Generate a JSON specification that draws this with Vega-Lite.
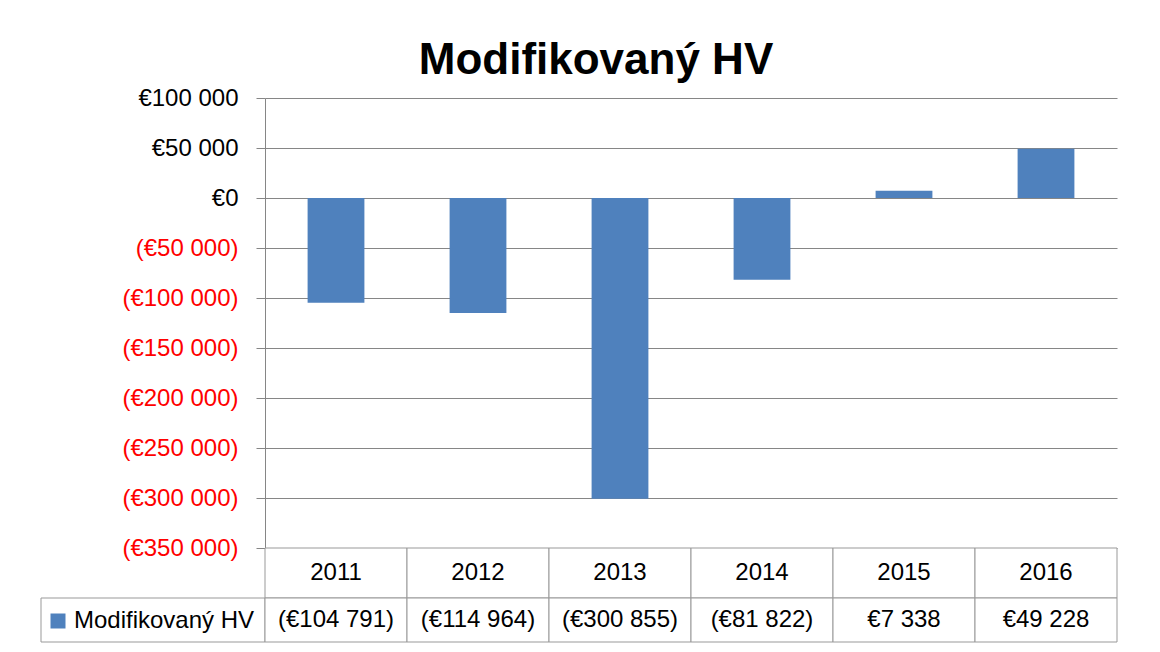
{
  "$schema": "https://vega.github.io/schema/vega-lite/v6.json",
  "padding": {"left": 40, "top": 39, "right": 10, "bottom": 5},
  "background": "white",
  "title": {"text": "Modifikovaný HV", "font": "Liberation Sans", "fontSize": 44, "fontWeight": "bold", "color": "#000000", "anchor": "middle", "dx": 17, "offset": 3},
  "datasets": {
    "hv": [
      {"year": "2011", "value": -104791},
      {"year": "2012", "value": -114964},
      {"year": "2013", "value": -300855},
      {"year": "2014", "value": -81822},
      {"year": "2015", "value": 7338},
      {"year": "2016", "value": 49228}
    ],
    "series": [{"series": "Modifikovaný HV"}]
  },
  "columns": 2,
  "spacing": 0,
  "bounds": "flush",
  "concat": [
    {"width": 224, "height": 450, "data": {"values": []}, "mark": "text", "encoding": {}},
    {
      "width": 852,
      "height": 450,
      "data": {"name": "hv"},
      "mark": {"type": "bar"},
      "encoding": {
        "x": {"field": "year", "type": "nominal", "axis": null, "sort": null, "scale": {"paddingInner": 0.6, "paddingOuter": 0.3}},
        "y": {
          "field": "value", "type": "quantitative",
          "scale": {"domain": [-350000, 100000], "nice": false},
          "axis": {
            "values": [-350000, -300000, -250000, -200000, -150000, -100000, -50000, 0, 50000, 100000],
            "format": "($,d",
            "title": null,
            "labelFont": "Liberation Sans",
            "labelFontSize": 24,
            "labelColor": {"condition": {"test": "datum.value < 0", "value": "#FF0000"}, "value": "#000000"},
            "labelPadding": 18,
            "labelFlush": false,
            "labelOverlap": false,
            "tickSize": 9,
            "tickColor": "#868686",
            "domainColor": "#868686",
            "grid": true,
            "gridColor": "#868686"
          }
        },
        "color": {
          "datum": "Modifikovaný HV", "type": "nominal",
          "scale": {"range": ["#4F81BD"]},
          "legend": {
            "orient": "none", "legendX": 5, "legendY": 511, "title": null,
            "symbolType": "square", "symbolSize": 225, "symbolStrokeWidth": 0,
            "labelFont": "Liberation Sans", "labelFontSize": 24, "labelColor": "#000000",
            "labelOffset": 4, "labelLimit": 400
          }
        }
      }
    },
    {"width": 224, "height": 50, "data": {"values": []}, "mark": "text", "encoding": {}},
    {
      "width": 852,
      "height": 50,
      "data": {"name": "hv"},
      "layer": [
        {"mark": {"type": "rect", "fill": "white", "stroke": "#999999", "strokeWidth": 1},
         "encoding": {"x": {"field": "year", "type": "nominal", "axis": null, "sort": null, "scale": {"paddingInner": 0, "paddingOuter": 0}}}},
        {"mark": {"type": "text", "font": "Liberation Sans", "fontSize": 24, "color": "#000000"},
         "encoding": {"x": {"field": "year", "type": "nominal", "axis": null, "sort": null}, "text": {"field": "year"}}}
      ]
    },
    {"width": 224, "height": 44, "data": {"name": "series"},
     "mark": {"type": "rect", "fill": "white", "stroke": "#999999", "strokeWidth": 1},
     "encoding": {"x": {"field": "series", "type": "nominal", "axis": null, "scale": {"paddingInner": 0, "paddingOuter": 0}}}},
    {
      "width": 852,
      "height": 44,
      "data": {"name": "hv"},
      "layer": [
        {"mark": {"type": "rect", "fill": "white", "stroke": "#999999", "strokeWidth": 1},
         "encoding": {"x": {"field": "year", "type": "nominal", "axis": null, "sort": null, "scale": {"paddingInner": 0, "paddingOuter": 0}}}},
        {"mark": {"type": "text", "font": "Liberation Sans", "fontSize": 24, "color": "#000000"},
         "encoding": {"x": {"field": "year", "type": "nominal", "axis": null, "sort": null}, "text": {"field": "value", "type": "quantitative", "format": "($,d"}}}
      ]
    }
  ],
  "config": {
    "view": {"stroke": null},
    "locale": {"number": {"decimal": ",", "thousands": " ", "grouping": [3], "currency": ["€", ""]}}
  }
}
